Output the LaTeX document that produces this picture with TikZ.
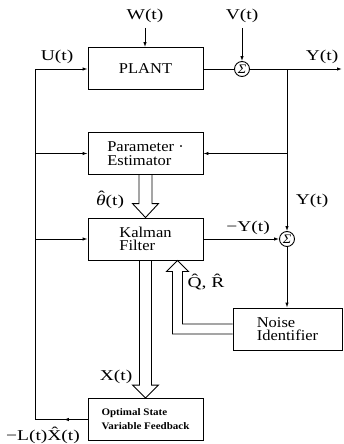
\documentclass[tikz,border=0pt]{standalone}
\usepackage{fontspec}
\setmainfont{Liberation Serif}[FakeStretch=1.1]
\newfontfamily\labfont{Liberation Serif}[FakeStretch=1.3]
\usetikzlibrary{arrows.meta,calc}
\tikzset{
  box/.style={draw,line width=0.9pt,minimum width=115pt,minimum height=42pt,align=left,inner sep=0pt,font=\fontsize{15}{13.5}\selectfont},
  smallbox/.style={box,font=\fontsize{10}{14}\selectfont\bfseries},
  sumc/.style={draw,circle,line width=0.9pt,minimum size=15pt,inner sep=0pt,font=\fontsize{13}{13}\selectfont\itshape},
  lab/.style={inner sep=0pt,font=\labfont\fontsize{15}{15}\selectfont},
  wire/.style={line width=0.9pt},
  arr/.style={wire,-{Latex[length=5pt,width=3.5pt]}},
  hollow/.style={line width=0.9pt,line join=miter}
}
\newcommand{\hatover}[1]{\leavevmode\hbox{\ooalign{#1\cr\hidewidth\kern1.5pt\raisebox{0.55ex}{ˆ}\hidewidth\cr}}}
\begin{document}
\begin{tikzpicture}[x=1pt,y=-1pt]
\useasboundingbox (0,0) rectangle (343,444);
% blocks
\node[box] (plant) at (145.5,68.5) {PLANT};
\node[box] (param) at (145.5,153.5) {Parameter ·\\Estimator};
\node[box] (kalman) at (145.5,239) {Kalman\\Filter};
\node[box,minimum width=109pt] (noise) at (287.5,329) {Noise\\Identifier};
\node[smallbox] (ofb) at (145.5,419.5) {Optimal State\\Variable Feedback};
\node[sumc] (s1) at (242,69) {Σ};
\node[sumc] (s2) at (287,239) {Σ};
% labels
\node[lab] (W) at (145,16) {W(t)};
\node[lab] (V) at (242,16) {V(t)};
\node[lab] (U) at (57,57) {U(t)};
\node[lab] (Yo) at (322,57) {Y(t)};
\node[lab] (Yr) at (312,201) {Y(t)};
\node[lab] (mY) at (248,228) {−Y(t)};
\node[lab] (th) at (110,202) {\hatover{\itshape θ}(t)};
\node[lab] (X) at (116,377) {X(t)};
\node[lab] (QR) at (206,282) {Q̂, R̂};
\node[lab] (LX) at (43,435) {−L(t)X̂(t)};
% coordinates
\coordinate (Wb) at (145,28);
\coordinate (Vb) at (242,28);
\coordinate (yout) at (342,69);
\coordinate (br) at (287,69);
\coordinate (L1) at (35,69);
\coordinate (L2) at (35,153.5);
\coordinate (L3) at (35,239);
\coordinate (L4) at (35,419.5);
% connectors
\draw[arr] (Wb) -- (plant.north -| Wb);
\draw[arr] (Vb) -- (s1.north);
\draw[wire] (plant.east |- s1) -- (s1);
\draw[arr] (s1) -- (yout);
\draw[wire] (ofb.west) -- (L4) -- (L1);
\draw[arr] (ofb.west) -- ($(ofb.west)!0.45!(L4)$);
\draw[arr] (L1) -- (plant.west |- L1);
\draw[arr] (L2) -- (param.west);
\draw[arr] (L3) -- (kalman.west);
\draw[arr] (br |- param.east) -- (param.east);
\draw[arr] (br) -- (s2.north);
\draw[arr] (kalman.east) -- (s2.west);
\draw[arr] (s2.south) -- (s2 |- noise.north);
% hollow arrows
\draw[hollow] ($(param.south)+(-6.5,0)$) -- ($(kalman.north)+(-6.5,-14)$) -- ($(kalman.north)+(-13,-14)$) -- (kalman.north) -- ($(kalman.north)+(13,-14)$) -- ($(kalman.north)+(6.5,-14)$) -- ($(param.south)+(6.5,0)$);
\draw[hollow] ($(kalman.south)+(-6,0)$) -- ($(ofb.north)+(-6,-13)$) -- ($(ofb.north)+(-13,-13)$) -- (ofb.north) -- ($(ofb.north)+(13,-13)$) -- ($(ofb.north)+(6,-13)$) -- ($(kalman.south)+(6,0)$);
\coordinate (qtip) at ($(kalman.south)+(32,0)$);
\draw[hollow] ($(noise.west)+(0,5)$) -| ($(qtip)+(-5,11)$) -- ($(qtip)+(-11,11)$) -- (qtip) -- ($(qtip)+(11,11)$) -- ($(qtip)+(5,11)$) |- ($(noise.west)+(0,-5)$);
\end{tikzpicture}
\end{document}
